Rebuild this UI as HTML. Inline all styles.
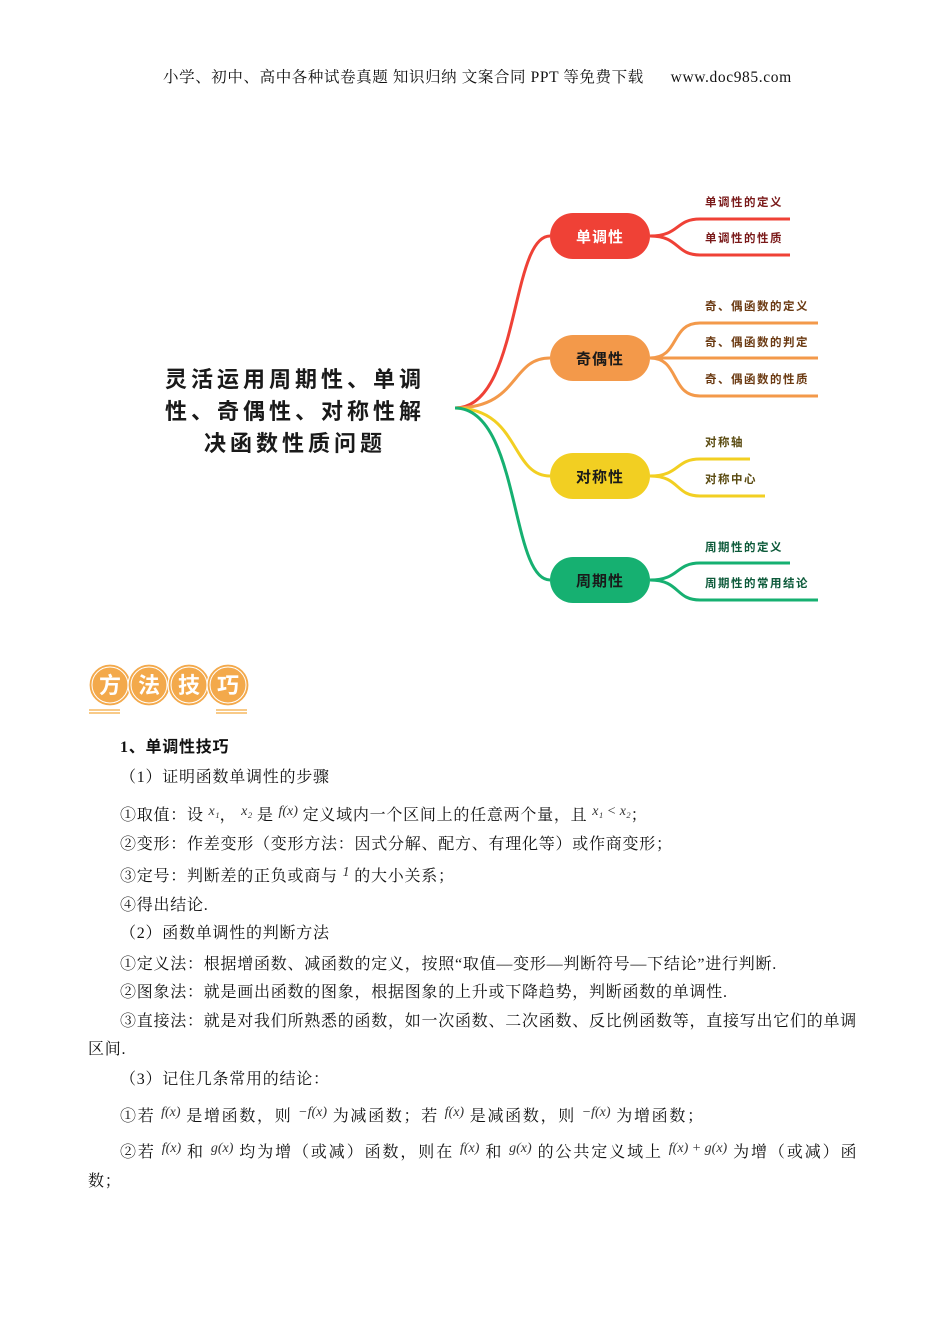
<!DOCTYPE html>
<html><head><meta charset="utf-8"><style>
body{margin:0;width:950px;height:1344px;background:#fff;position:relative;font-family:"Liberation Serif","Noto Serif CJK SC",serif;color:#111;overflow:hidden}
.t{position:absolute;font-size:16px;white-space:nowrap;line-height:1;letter-spacing:0.75px}
i{font-family:"Liberation Serif",serif;font-size:14px;position:relative;top:-5px;color:#333;letter-spacing:0}
</style></head><body>
<div class="t" style="left:163px;top:70px;font-size:15.5px;letter-spacing:0.6px">小学、初中、高中各种试卷真题 知识归纳 文案合同 PPT 等免费下载 &nbsp;&nbsp;&nbsp;&nbsp;&nbsp;www.doc985.com</div>
<svg width="950" height="760" style="position:absolute;left:0;top:0" font-family="'Noto Sans CJK SC',sans-serif" font-weight="bold">
<g font-size="22" fill="#1a1a1a" text-anchor="middle" letter-spacing="4">
<text x="295" y="387">灵活运用周期性、单调</text>
<text x="295" y="419">性、奇偶性、对称性解</text>
<text x="295" y="451">决函数性质问题</text></g>
<g fill="none" stroke-width="3">
<path d="M455 408 C520 408 510 236 550 236" stroke="#ef4136"/>
<path d="M455 408 C520 408 510 358 550 358" stroke="#f3994a"/>
<path d="M455 408 C520 408 510 476 550 476" stroke="#f2cf22"/>
<path d="M455 408 C520 408 510 580 550 580" stroke="#16b071"/>
<path d="M650 236 C680 236 675 219 700 219 H790 M650 236 C680 236 675 255 700 255 H790" stroke="#ef4136"/>
<path d="M650 358 C680 358 670 323 700 323 H818 M650 358 H818 M650 358 C680 358 670 396 700 396 H818" stroke="#f3994a"/>
<path d="M650 476 C680 476 675 459 700 459 H750 M650 476 C680 476 675 496 700 496 H765" stroke="#f2cf22"/>
<path d="M650 580 C680 580 675 563 700 563 H790 M650 580 C680 580 675 600 700 600 H818" stroke="#16b071"/>
</g>
<rect x="550" y="213" width="100" height="46" rx="23" fill="#ef4136"/>
<rect x="550" y="335" width="100" height="46" rx="23" fill="#f3994a"/>
<rect x="550" y="453" width="100" height="46" rx="23" fill="#f2cf22"/>
<rect x="550" y="557" width="100" height="46" rx="23" fill="#16b071"/>
<g font-size="15" text-anchor="middle" letter-spacing="1">
<text x="600" y="242" fill="#fff">单调性</text>
<text x="600" y="364" fill="#1a1a1a">奇偶性</text>
<text x="600" y="482" fill="#1a1a1a">对称性</text>
<text x="600" y="586" fill="#1a1a1a">周期性</text></g>
<g font-size="11.5" letter-spacing="1.5">
<text x="705" y="206" fill="#7a1a1a">单调性的定义</text>
<text x="705" y="242" fill="#7a1a1a">单调性的性质</text>
<text x="705" y="310" fill="#6b3a12">奇、偶函数的定义</text>
<text x="705" y="346" fill="#6b3a12">奇、偶函数的判定</text>
<text x="705" y="383" fill="#6b3a12">奇、偶函数的性质</text>
<text x="705" y="446" fill="#5a4a10">对称轴</text>
<text x="705" y="483" fill="#5a4a10">对称中心</text>
<text x="705" y="551" fill="#0d5a3a">周期性的定义</text>
<text x="705" y="587" fill="#0d5a3a">周期性的常用结论</text></g>
<g stroke="#f5b860" stroke-width="1.5">
<line x1="89" y1="710" x2="120" y2="710"/><line x1="89" y1="713" x2="120" y2="713"/>
<line x1="216" y1="710" x2="247" y2="710"/><line x1="216" y1="713" x2="247" y2="713"/></g>
<g fill="#f3a94b" stroke="#fff" stroke-width="1.2">
<circle cx="110" cy="685" r="21"/><circle cx="149" cy="685" r="21"/><circle cx="189" cy="685" r="21"/><circle cx="228" cy="685" r="21"/></g>
<g fill="none" stroke="#fff" stroke-width="1"><circle cx="110" cy="685" r="18"/><circle cx="149" cy="685" r="18"/><circle cx="189" cy="685" r="18"/><circle cx="228" cy="685" r="18"/></g>
<g font-size="22" fill="#fff" text-anchor="middle">
<text x="110" y="693">方</text><text x="149" y="693">法</text><text x="189" y="693">技</text><text x="228" y="693">巧</text></g>
</svg>
<div class="t" style="left:120px;top:740px;font-weight:bold;font-family:'Liberation Serif','Noto Sans CJK SC',serif">1、单调性技巧</div>
<div class="t" style="left:120px;top:770px">（1）证明函数单调性的步骤</div>
<div class="t" style="left:120px;top:808px">①取值：设 <i>x₁</i>， <i>x₂</i> 是 <i>f(x)</i> 定义域内一个区间上的任意两个量，且 <i>x₁ &lt; x₂</i>；</div>
<div class="t" style="left:120px;top:837px">②变形：作差变形（变形方法：因式分解、配方、有理化等）或作商变形；</div>
<div class="t" style="left:120px;top:869px">③定号：判断差的正负或商与 <i>1</i> 的大小关系；</div>
<div class="t" style="left:120px;top:898px">④得出结论.</div>
<div class="t" style="left:120px;top:926px">（2）函数单调性的判断方法</div>
<div class="t" style="left:120px;top:957px">①定义法：根据增函数、减函数的定义，按照“取值—变形—判断符号—下结论”进行判断.</div>
<div class="t" style="left:120px;top:985px">②图象法：就是画出函数的图象，根据图象的上升或下降趋势，判断函数的单调性.</div>
<div class="t" style="left:120px;top:1014px">③直接法：就是对我们所熟悉的函数，如一次函数、二次函数、反比例函数等，直接写出它们的单调</div>
<div class="t" style="left:88px;top:1042px">区间.</div>
<div class="t" style="left:120px;top:1072px">（3）记住几条常用的结论：</div>
<div class="t" style="left:120px;top:1109px;letter-spacing:1.7px">①若 <i>f(x)</i> 是增函数，则 <i>−f(x)</i> 为减函数；若 <i>f(x)</i> 是减函数，则 <i>−f(x)</i> 为增函数；</div>
<div class="t" style="left:120px;top:1145px;letter-spacing:1.9px">②若 <i>f(x)</i> 和 <i>g(x)</i> 均为增（或减）函数，则在 <i>f(x)</i> 和 <i>g(x)</i> 的公共定义域上 <i>f(x) + g(x)</i> 为增（或减）函</div>
<div class="t" style="left:88px;top:1174px">数；</div>
</body></html>
